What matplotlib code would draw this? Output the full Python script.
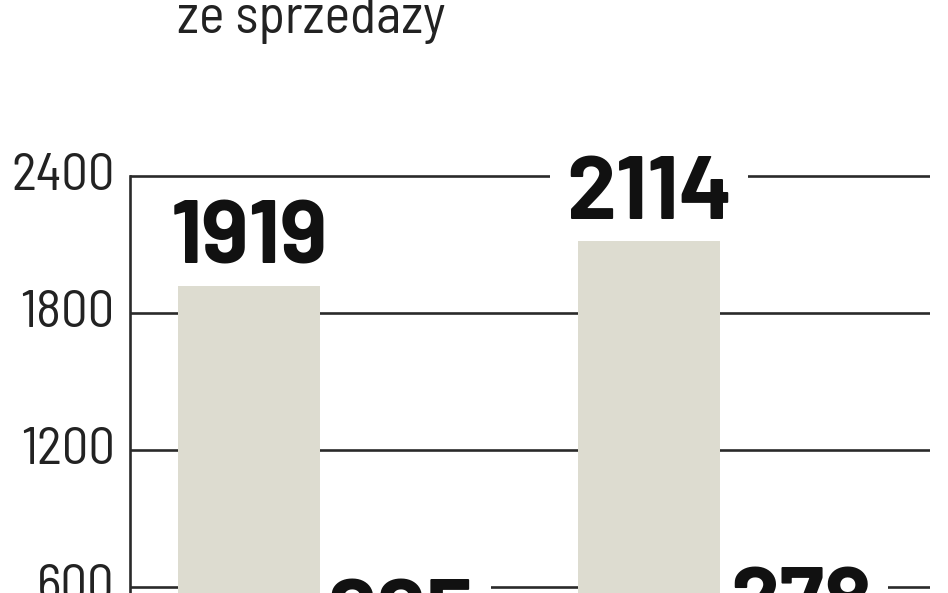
import matplotlib
matplotlib.use("Agg")
import matplotlib.pyplot as plt

categories = ["A", "B"]
revenue = [1919, 2114]
profit = [225, 278]
yticks = [600, 1200, 1800, 2400]
title_text = "ze sprzedazy"

BOLD_FONT = ["Barlow", "DejaVu Sans"]
TICK_FONT = ["Barlow Semi Condensed", "DejaVu Sans"]

fig = plt.figure(figsize=(9.48, 5.93), dpi=100)
W, H = 948, 593
ax = fig.add_axes([130 / W, 0, 800 / W, 1])
ax.set_xlim(-0.4875, 1.5125)
ax.set_ylim(574, 3171)

bar_w = 0.355
off = 0.19
xs = list(range(len(categories)))
ax.bar([x - off for x in xs], revenue, width=bar_w, color="#dddcd0", zorder=2)
ax.bar([x + off for x in xs], profit, width=bar_w, color="#dddcd0", zorder=2)

for y in yticks:
    ax.axhline(y, color="#2a2a2a", lw=1.9, zorder=1)

for s in ["top", "right", "bottom"]:
    ax.spines[s].set_visible(False)
ax.spines["left"].set_bounds(0, 2400)
ax.spines["left"].set_linewidth(1.9)
ax.spines["left"].set_color("#2a2a2a")
ax.spines["left"].set_zorder(1.8)
ax.set_xticks([])
ax.set_yticks(yticks)
ax.set_yticklabels([str(t) for t in yticks], fontsize=38, family=TICK_FONT, color="#222222")
ax.tick_params(axis="y", length=0, pad=11)
for lab in ax.get_yticklabels():
    lab.set_va("center")

def label(x, v, dy):
    ax.annotate(str(v), (x, v), xytext=(0, dy), textcoords="offset points",
                ha="center", va="baseline", fontsize=64, fontweight="bold",
                family=BOLD_FONT, color="#111111", zorder=1.5, annotation_clip=False,
                bbox=dict(boxstyle="square,pad=0.18", fc="white", ec="none"))

for x, v in zip(xs, revenue):
    label(x - off, v, 16)
for x, v in zip(xs, profit):
    label(x + off, v, 22)

fig.text(177 / W, 1 - 33 / H, title_text, fontsize=39, family=TICK_FONT,
         color="#222222", va="baseline", ha="left")

fig.savefig("out.png", dpi=100)
